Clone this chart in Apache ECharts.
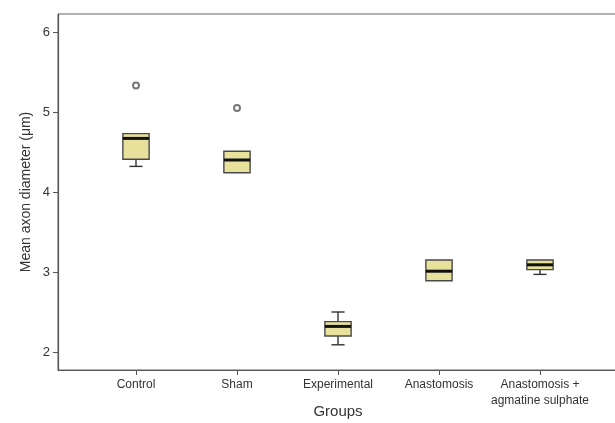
<!DOCTYPE html>
<html>
<head>
<meta charset="utf-8">
<script src="https://cdn.jsdelivr.net/npm/echarts@6/dist/echarts.min.js"></script>
<style>
    html, body { margin: 0; padding: 0; background: #fff; }
    #chart { width: 615px; height: 423px; }
</style>
</head>
<body>
<div id="chart"></div>
<script>
    // groups and box statistics
    var groups = ['Control', 'Sham', 'Experimental', 'Anastomosis', 'Anastomosis +\nagmatine sulphate'];
    var whiskerLow = [4.32, 4.23, 2.09, 2.88, 2.97];
    var quart1 = [4.41, 4.24, 2.20, 2.89, 3.03];
    var medians = [4.67, 4.40, 2.32, 3.01, 3.09];
    var quart3 = [4.73, 4.51, 2.38, 3.15, 3.15];
    var whiskerHigh = [4.73, 4.51, 2.50, 3.16, 3.16];
    var outlierGroups = ['Control', 'Sham'];
    var outlierValues = [5.33, 5.05];
    var yTicks = [2, 3, 4, 5, 6];

    var chart = echarts.init(document.getElementById('chart'));

    var boxData = groups.map(function (g, i) {
        return [i, whiskerLow[i], quart1[i], medians[i], quart3[i], whiskerHigh[i]];
    });
    var outlierData = outlierGroups.map(function (g, i) {
        return [groups.indexOf(g), outlierValues[i]];
    });

    function renderBox(params, api) {
        var x = api.value(0);
        var band = api.size([1, 0])[0];
        var half = band * 0.13;
        var cap = band * 0.065;
        var lo = api.coord([x, api.value(1)]);
        var q1 = api.coord([x, api.value(2)]);
        var md = api.coord([x, api.value(3)]);
        var q3 = api.coord([x, api.value(4)]);
        var hi = api.coord([x, api.value(5)]);
        var line = { stroke: '#333', lineWidth: 1.4 };
        var kids = [];
        if (hi[1] < q3[1] - 1) {
            kids.push({ type: 'line', shape: { x1: hi[0], y1: hi[1], x2: q3[0], y2: q3[1] }, style: line });
            kids.push({ type: 'line', shape: { x1: hi[0] - cap, y1: hi[1], x2: hi[0] + cap, y2: hi[1] }, style: line });
        }
        if (lo[1] > q1[1] + 1) {
            kids.push({ type: 'line', shape: { x1: lo[0], y1: lo[1], x2: q1[0], y2: q1[1] }, style: line });
            kids.push({ type: 'line', shape: { x1: lo[0] - cap, y1: lo[1], x2: lo[0] + cap, y2: lo[1] }, style: line });
        }
        kids.push({
            type: 'rect',
            shape: { x: q3[0] - half, y: q3[1], width: half * 2, height: q1[1] - q3[1] },
            style: { fill: '#e8e19c', stroke: '#4a4a4a', lineWidth: 1.4 }
        });
        kids.push({
            type: 'line',
            shape: { x1: md[0] - half, y1: md[1], x2: md[0] + half, y2: md[1] },
            style: { stroke: '#111', lineWidth: 3 }
        });
        return { type: 'group', children: kids };
    }

    var yMin = 1.775, yMax = 6.225;

    option = {
        backgroundColor: '#fff',
        animation: false,
        grid: [
            {
                left: 58, top: 14, bottom: 53, width: 700, outerBoundsMode: 'none',
                show: true, borderColor: '#666', borderWidth: 1
            },
            {
                left: 85.5, top: 14, bottom: 53, width: 505, outerBoundsMode: 'none'
            }
        ],
        xAxis: [
            {
                gridIndex: 0, type: 'value', min: 0, max: 1,
                axisLine: { show: true, lineStyle: { color: '#555', width: 1.2 } },
                axisTick: { show: false }, axisLabel: { show: false }, splitLine: { show: false }
            },
            {
                gridIndex: 1, type: 'category', data: groups,
                axisLine: { show: false },
                axisTick: { show: true, alignWithLabel: true, length: 5, lineStyle: { color: '#555' } },
                axisLabel: {
                    color: '#333', fontSize: 12, fontFamily: 'Liberation Sans, Arial, sans-serif',
                    margin: 7, lineHeight: 16, interval: 0
                },
                name: 'Groups', nameLocation: 'middle', nameGap: 34, nameMoveOverlap: false,
                nameTextStyle: { color: '#333', fontSize: 15, fontFamily: 'Liberation Sans, Arial, sans-serif' }
            }
        ],
        yAxis: [
            {
                gridIndex: 0, type: 'value', min: yMin, max: yMax,
                axisLine: { show: true, lineStyle: { color: '#555', width: 1.2 } },
                axisTick: { show: true, length: 5, customValues: yTicks, lineStyle: { color: '#555' } },
                axisLabel: {
                    color: '#333', fontSize: 13, fontFamily: 'Liberation Sans, Arial, sans-serif',
                    margin: 8, customValues: yTicks
                },
                splitLine: { show: false },
                name: 'Mean axon diameter (μm)', nameLocation: 'middle', nameGap: 25, nameMoveOverlap: false,
                nameTextStyle: { color: '#333', fontSize: 14, fontFamily: 'Liberation Sans, Arial, sans-serif' }
            },
            {
                gridIndex: 1, type: 'value', min: yMin, max: yMax,
                axisLine: { show: false }, axisTick: { show: false },
                axisLabel: { show: false }, splitLine: { show: false }
            }
        ],
        series: [
            {
                type: 'custom',
                xAxisIndex: 1, yAxisIndex: 1,
                renderItem: renderBox,
                encode: { x: 0, y: [1, 2, 3, 4, 5] },
                data: boxData
            },
            {
                type: 'scatter',
                xAxisIndex: 1, yAxisIndex: 1,
                symbol: 'emptyCircle',
                symbolSize: 6,
                itemStyle: { color: '#555', borderColor: '#555', borderWidth: 1.2 },
                data: outlierData
            }
        ]
    };

    chart.setOption(option);
</script>
</body>
</html>
